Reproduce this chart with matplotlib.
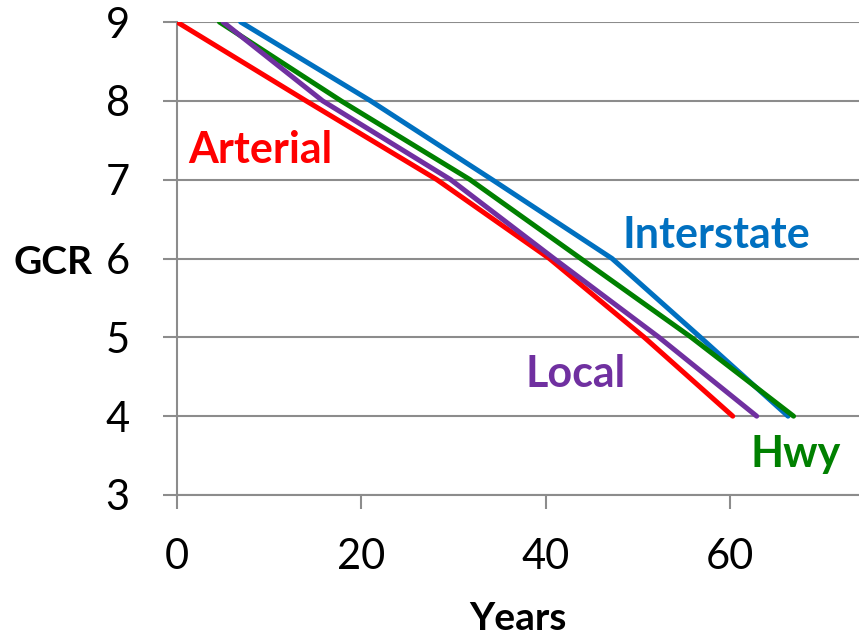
import matplotlib
matplotlib.use("Agg")
import matplotlib.pyplot as plt

plt.rcParams['font.family'] = ['Lato', 'DejaVu Sans']

# Data (Years, GCR)
arterial_x = [0, 14, 28.2, 40.4, 50.7, 60.3]
arterial_y = [9, 8, 7, 6, 5, 4]
interstate_x = [6.9, 21.0, 34.2, 47.2, 56.8, 66.3]
interstate_y = [9, 8, 7, 6, 5, 4]
hwy_x = [4.6, 17.8, 31.8, 43.8, 55.8, 66.9]
hwy_y = [9, 8, 7, 6, 5, 4]
local_x = [5.0, 15.8, 29.7, 40.9, 52.3, 62.9]
local_y = [9, 8, 7, 6, 5, 4]

x_ticks = [0, 20, 40, 60]
y_ticks = [3, 4, 5, 6, 7, 8, 9]

RED = '#FF0000'
BLUE = '#0070C0'
GREEN = '#008000'
PURPLE = '#7030A0'
GRID = '#8C8C8C'

fig = plt.figure(figsize=(8.59, 6.43), dpi=100)
ax = fig.add_axes([177/859, 1 - 495/643, 1 - 177/859, (495 - 22)/643])

lw = 3.6
ax.plot(arterial_x, arterial_y, color=RED, lw=lw, solid_capstyle='round', zorder=3)
ax.plot(interstate_x, interstate_y, color=BLUE, lw=lw, solid_capstyle='round', zorder=3)
ax.plot(hwy_x, hwy_y, color=GREEN, lw=lw, solid_capstyle='round', zorder=3)
ax.plot(local_x, local_y, color=PURPLE, lw=lw, solid_capstyle='round', zorder=3)

ax.set_xlim(0, 74)
ax.set_ylim(3, 9)
ax.set_xticks(x_ticks)
ax.set_yticks(y_ticks)

ax.yaxis.grid(True, color=GRID, lw=1.5)
ax.set_axisbelow(True)
for s in ['top', 'right']:
    ax.spines[s].set_visible(False)
ax.spines['left'].set_color(GRID)
ax.spines['left'].set_linewidth(1.5)
ax.spines['bottom'].set_color(GRID)
ax.spines['bottom'].set_linewidth(1.5)

ax.tick_params(axis='both', direction='out', length=10, width=1.5, color=GRID,
               labelsize=30, labelcolor='black')
ax.tick_params(axis='y', pad=24)
ax.tick_params(axis='x', pad=21)

ax.set_xlabel('Years', fontsize=28, fontweight='bold', labelpad=18)
fig.text(14/859, 1 - 262/643, 'GCR', fontsize=28, fontweight='bold',
         ha='left', va='center')

fs = 31
ax.text(1.2, 7.21, 'Arterial', color=RED, fontsize=fs, fontweight='bold',
        ha='left', va='baseline')
ax.text(48.3, 6.13, 'Interstate', color=BLUE, fontsize=fs, fontweight='bold',
        ha='left', va='baseline')
ax.text(37.8, 4.375, 'Local', color=PURPLE, fontsize=fs, fontweight='bold',
        ha='left', va='baseline')
ax.text(62.2, 3.36, 'Hwy', color=GREEN, fontsize=fs, fontweight='bold',
        ha='left', va='baseline')

fig.savefig('out.png', dpi=100)
